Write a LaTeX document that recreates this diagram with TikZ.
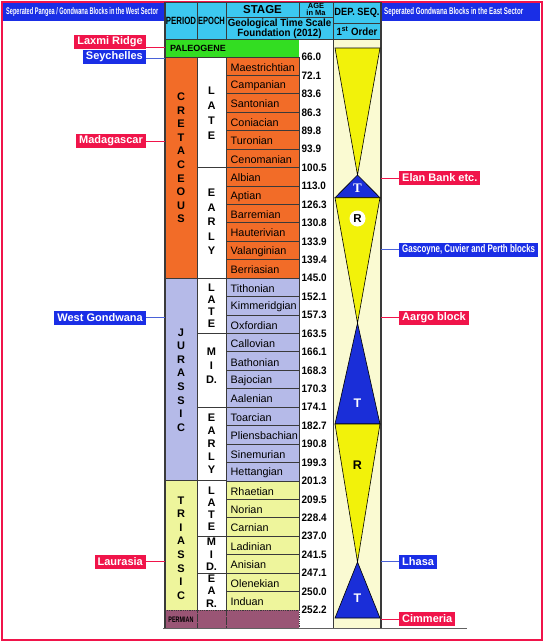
\documentclass[tikz,border=0pt]{standalone}
\usepackage{fontspec}
\setmainfont{Liberation Sans}
\newfontfamily\serifT{Liberation Serif}
\usepackage{xcolor}
\usetikzlibrary{positioning}

\definecolor{frameRed}{HTML}{F0144A}
\definecolor{lblRed}{HTML}{F0144A}
\definecolor{lblBlue}{HTML}{1A2EE6}
\definecolor{linkBlue}{HTML}{4A62D8}
\definecolor{hdrCyan}{HTML}{3CC8F0}
\definecolor{palGreen}{HTML}{33DD22}
\definecolor{creOrange}{HTML}{F26C28}
\definecolor{jurLav}{HTML}{B5BAE8}
\definecolor{triYel}{HTML}{EEF59C}
\definecolor{perMauve}{HTML}{9A5575}
\definecolor{depBg}{HTML}{FAFAD2}
\definecolor{seqYellow}{HTML}{F2F20A}
\definecolor{seqBlue}{HTML}{1A2ED8}
\definecolor{gridGrey}{HTML}{3A3A3A}

\tikzset{
  cellline/.style={draw=gridGrey, line width=0.9pt},
  hdrcell/.style={cellline, fill=hdrCyan},
  hdrtxt/.style={font=\bfseries\fontsize{10.5}{11}\selectfont, align=center, inner sep=0pt},
  stagetxt/.style={font=\fontsize{10.8}{11}\selectfont, anchor=west, inner sep=0pt},
  agetxt/.style={font=\bfseries\fontsize{10.8}{11}\selectfont, anchor=west, inner sep=0pt},
  periodtxt/.style={font=\bfseries\fontsize{11}{13.6}\selectfont, align=center, inner sep=0pt},
  epochtxt/.style={font=\bfseries\fontsize{11}{#1}\selectfont, align=center, inner sep=0pt},
  epochtxt/.default=13.5,
  blockbox/.style={font=\bfseries\fontsize{11}{11}\selectfont, text=white,
    inner xsep=3pt, inner ysep=0pt, minimum height=14pt},
  redbox/.style={blockbox, fill=lblRed},
  bluebox/.style={blockbox, fill=lblBlue},
  redlink/.style={draw=frameRed, line width=0.8pt},
  bluelink/.style={draw=linkBlue, line width=0.8pt},
  banner/.style={fill=lblBlue},
  seqtri/.style={draw=black, line width=0.6pt}
}

\begin{document}
\begin{tikzpicture}[x=1pt,y=-1pt]
  \useasboundingbox (0,0) rectangle (543,643);

  % frame and sector banners
  \draw[frameRed, line width=2pt] (1.5,1.5) rectangle (541.5,640);
  \fill[banner] (3,3) rectangle (165,21);
  \node[anchor=west, inner sep=0pt, text=white] (westhead) at (6,12)
    {\resizebox{152pt}{7pt}{\bfseries Seperated Pangea / Gondwana Blocks in the West Sector}};
  \fill[banner] (381,3) rectangle (540,21);
  \node[anchor=west, inner sep=0pt, text=white] (easthead) at (384,12)
    {\resizebox{139pt}{7pt}{\bfseries Seperated Gondwana Blocks in the East Sector}};

  % table header
  \draw[hdrcell] (165,2) rectangle (197,39.5);
  \node[hdrtxt] (hperiod) at (181,20.5) {\scalebox{0.75}[1]{PERIOD}};
  \draw[hdrcell] (197,2) rectangle (226,39.5);
  \node[hdrtxt] (hepoch) at (211.5,20.5) {\scalebox{0.72}[1]{EPOCH}};
  \draw[hdrcell] (226,2) rectangle (299,17.5);
  \node[hdrtxt, font=\bfseries\fontsize{11.5}{12}\selectfont] (hstage) at (262.5,10) {STAGE};
  \draw[hdrcell] (299,2) rectangle (333,17.5);
  \node[hdrtxt, font=\bfseries\fontsize{7.5}{7}\selectfont] (hage) at (316,9.8) {AGE\\in Ma};
  \draw[hdrcell] (226,17.5) rectangle (333,39.5);
  \node[hdrtxt, font=\bfseries\fontsize{10.5}{10}\selectfont] (hgts) at (279.5,28.5)
    {\scalebox{0.93}[1]{Geological Time Scale}\\\scalebox{0.93}[1]{Foundation (2012)}};
  \draw[hdrcell] (333,2) rectangle (381,23);
  \node[hdrtxt] (hdep) at (357,12.5) {\scalebox{0.88}[1]{DEP. SEQ.}};
  \draw[hdrcell] (333,23) rectangle (381,39.5);
  \node[hdrtxt] (horder) at (357,31.5) {\scalebox{0.92}[1]{1\textsuperscript{st} Order}};

  % paleogene, age column, depositional column
  \draw[cellline, fill=palGreen] (165,39.5) rectangle (299,57);
  \node[hdrtxt, font=\bfseries\fontsize{9}{9}\selectfont] (paleogene) at (198,48.5) {PALEOGENE};
  \fill[white] (299,39.5) rectangle (333,628);
  \draw[cellline, fill=depBg] (333,39.5) rectangle (381,628);

  % periods
  \draw[cellline, fill=creOrange] (165,57) rectangle (197,278.2);
  \node[periodtxt] (cretaceous) at (181,158) {C\\R\\E\\T\\A\\C\\E\\O\\U\\S};
  \draw[cellline, fill=jurLav] (165,278.2) rectangle (197,480.9);
  \node[periodtxt] (jurassic) at (181,380) {J\\U\\R\\A\\S\\S\\I\\C};
  \draw[cellline, fill=triYel] (165,480.9) rectangle (197,610);
  \node[periodtxt] (triassic) at (181,548) {T\\R\\I\\A\\S\\S\\I\\C};

  % epochs
  \draw[cellline, fill=white] (197,57) rectangle (226,167.6);
  \node[epochtxt=15] (crelate) at (211.5,113) {L\\A\\T\\E};
  \draw[cellline, fill=white] (197,167.6) rectangle (226,278.2);
  \node[epochtxt=14.4] (creearly) at (211.5,222) {E\\A\\R\\L\\Y};
  \draw[cellline, fill=white] (197,278.2) rectangle (226,333.5);
  \node[epochtxt=12] (jurlate) at (211.5,305.5) {L\\A\\T\\E};
  \draw[cellline, fill=white] (197,333.5) rectangle (226,407.2);
  \node[epochtxt=14] (jurmid) at (211.5,366) {M\\I\\D.};
  \draw[cellline, fill=white] (197,407.2) rectangle (226,480.9);
  \node[epochtxt=13] (jurearly) at (211.5,444) {E\\A\\R\\L\\Y};
  \draw[cellline, fill=white] (197,480.9) rectangle (226,536.2);
  \node[epochtxt=12] (trilate) at (211.5,509) {L\\A\\T\\E};
  \draw[cellline, fill=white] (197,536.2) rectangle (226,573.1);
  \node[epochtxt=12.5] (trimid) at (211.5,554.5) {M\\I\\D.};
  \draw[cellline, fill=white] (197,573.1) rectangle (226,610);
  \node[epochtxt=12.5] (triear) at (211.5,591) {E\\A\\R.};

  % stages
  \foreach \stg [count=\i from 0] in {Maestrichtian,Campanian,Santonian,Coniacian,Turonian,
      Cenomanian,Albian,Aptian,Barremian,Hauterivian,Valanginian,Berriasian}{
    \draw[cellline, fill=creOrange] (226,{57+\i*18.433}) rectangle (299,{57+(\i+1)*18.433});
    \node[stagetxt] at (230.5,{57+(\i+0.5)*18.433+1}) {\stg};
  }
  \foreach \stg [count=\i from 12] in {Tithonian,Kimmeridgian,Oxfordian,Callovian,Bathonian,
      Bajocian,Aalenian,Toarcian,Pliensbachian,Sinemurian,Hettangian}{
    \draw[cellline, fill=jurLav] (226,{57+\i*18.433}) rectangle (299,{57+(\i+1)*18.433});
    \node[stagetxt] at (230.5,{57+(\i+0.5)*18.433+1}) {\stg};
  }
  \foreach \stg [count=\i from 23] in {Rhaetian,Norian,Carnian,Ladinian,Anisian,Olenekian,Induan}{
    \draw[cellline, fill=triYel] (226,{57+\i*18.433}) rectangle (299,{57+(\i+1)*18.433});
    \node[stagetxt] at (230.5,{57+(\i+0.5)*18.433+1}) {\stg};
  }

  % permian
  \fill[perMauve] (165,610) rectangle (299,628);
  \draw[gridGrey, densely dotted, line width=0.8pt] (165,610) rectangle (197,628);
  \draw[gridGrey, densely dotted, line width=0.8pt] (197,610) rectangle (226,628);
  \draw[gridGrey, densely dotted, line width=0.8pt] (226,610) rectangle (299,628);
  \node[inner sep=0pt, font=\bfseries\fontsize{8}{8}\selectfont] (permian) at (181,620)
    {\scalebox{0.68}[1]{PERMIAN}};

  % ages
  \foreach \age [count=\i from 0] in {66.0,72.1,83.6,86.3,89.8,93.9,100.5,113.0,126.3,130.8,
      133.9,139.4,145.0,152.1,157.3,163.5,166.1,168.3,170.3,174.1,182.7,190.8,199.3,201.3,
      209.5,228.4,237.0,241.5,247.1,250.0,252.2}{
    \node[agetxt] at (301.5,{57+\i*18.433}) {\scalebox{0.92}[1]{\age}};
  }

  % table edges
  \draw[gridGrey, line width=1.2pt] (165,2) -- (165,628);
  \draw[gridGrey, line width=1.2pt] (381,2) -- (381,628);
  \draw[gridGrey!80, line width=1.6pt] (163,628.5) -- (467,628.5);

  % depositional sequences
  \draw[seqtri, fill=seqYellow] (335,48) -- (380,48) -- (357.5,175) -- cycle;
  \draw[seqtri, fill=seqBlue] (357.5,175) -- (380,197.7) -- (335,197.7) -- cycle;
  \draw[seqtri, fill=seqYellow] (335,197.7) -- (380,197.7) -- (357.5,323) -- cycle;
  \draw[seqtri, fill=seqBlue] (357.5,323) -- (380,424) -- (335,424) -- cycle;
  \draw[seqtri, fill=seqYellow] (335,424) -- (380,424) -- (357.5,562) -- cycle;
  \draw[seqtri, fill=seqBlue] (357.5,562) -- (380,618) -- (335,618) -- cycle;
  \node[text=white, font=\serifT\bfseries\fontsize{13}{13}\selectfont, inner sep=0pt] (t1) at (357.5,188.5) {T};
  \node[circle, fill=white, minimum size=16pt, inner sep=0pt,
    font=\bfseries\fontsize{11.5}{11}\selectfont] (r1) at (357.5,218.5) {R};
  \node[text=white, font=\bfseries\fontsize{12.5}{12}\selectfont, inner sep=0pt] (t2) at (357.5,403.5) {T};
  \node[font=\bfseries\fontsize{12.5}{12}\selectfont, inner sep=0pt] (r2) at (357.5,465) {R};
  \node[text=white, font=\bfseries\fontsize{12.5}{12}\selectfont, inner sep=0pt] (t3) at (357.5,598.5) {T};

  % west sector blocks
  \node[redbox, anchor=east] (laxmi) at (146,41.5) {Laxmi Ridge};
  \node[bluebox, anchor=east] (seychelles) at (146,57) {Seychelles};
  \node[redbox, anchor=east] (madagascar) at (146,141) {Madagascar};
  \node[bluebox, anchor=east] (westgond) at (146,317.5) {West Gondwana};
  \node[redbox, anchor=east] (laurasia) at (146,561.5) {Laurasia};
  \coordinate (laxmiT) at (165,47);
  \coordinate (seychellesT) at (165,58);
  \coordinate (madagascarT) at (165,141.5);
  \coordinate (westgondT) at (165,317.5);
  \coordinate (laurasiaT) at (165,561.5);
  \draw[redlink] (laxmi.east |- laxmiT) -- (laxmiT);
  \draw[bluelink] (seychelles.east |- seychellesT) -- (seychellesT);
  \draw[redlink] (madagascar.east |- madagascarT) -- (madagascarT);
  \draw[bluelink] (westgond.east) -- (westgondT);
  \draw[redlink] (laurasia.east) -- (laurasiaT);

  % east sector blocks
  \node[redbox, anchor=west] (elan) at (399,178) {Elan Bank etc.};
  \node[bluebox, anchor=west] (gascoyne) at (399,249.5)
    {\scalebox{0.72}[1]{Gascoyne, Cuvier and Perth blocks}};
  \node[redbox, anchor=west] (aargo) at (399,317.5) {Aargo block};
  \node[bluebox, anchor=west] (lhasa) at (399,561.5) {Lhasa};
  \node[redbox, anchor=west] (cimmeria) at (399,619) {Cimmeria};
  \coordinate (elanT) at (381,178);
  \coordinate (gascoyneT) at (381,249.5);
  \coordinate (aargoT) at (381,317.5);
  \coordinate (lhasaT) at (381,561.5);
  \coordinate (cimmeriaT) at (381,619);
  \draw[redlink] (elanT) -- (elan.west);
  \draw[bluelink] (gascoyneT) -- (gascoyne.west);
  \draw[redlink] (aargoT) -- (aargo.west);
  \draw[bluelink] (lhasaT) -- (lhasa.west);
  \draw[redlink] (cimmeriaT) -- (cimmeria.west);
\end{tikzpicture}
\end{document}
